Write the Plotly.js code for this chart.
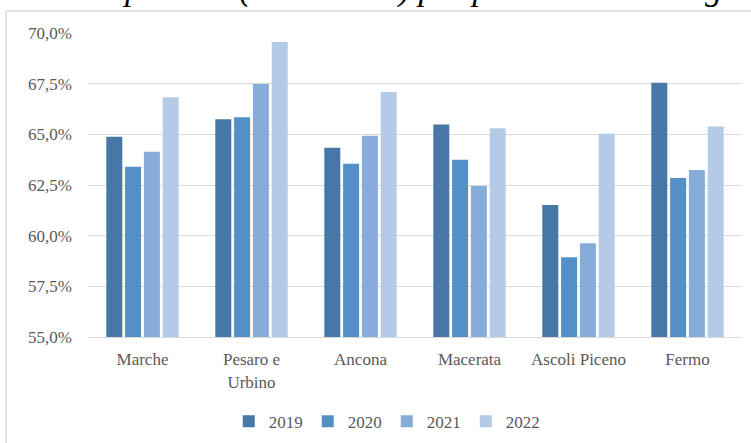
<!DOCTYPE html>
<html>
<head>
<meta charset="utf-8">
<script src="https://cdn.plot.ly/plotly-3.0.1.min.js"></script>
<style>html,body{margin:0;padding:0;background:#fff;}#chart{width:751px;height:443px;}</style>
</head>
<body>
<div id="chart"></div>
<script>
const categories = ["Marche", "Pesaro e<br>Urbino", "Ancona", "Macerata", "Ascoli Piceno", "Fermo"];
const years = ["2019", "2020", "2021", "2022"];
const v2019 = [64.88, 65.74, 64.34, 65.48, 61.51, 67.55];
const v2020 = [63.40, 65.84, 63.55, 63.75, 58.93, 62.85];
const v2021 = [64.14, 67.48, 64.93, 62.45, 59.62, 63.24];
const v2022 = [66.83, 69.56, 67.09, 65.30, 65.03, 65.39];
const yTicks = [55, 57.5, 60, 62.5, 65, 67.5, 70];
const yTickLabels = ["55,0%", "57,5%", "60,0%", "62,5%", "65,0%", "67,5%", "70,0%"];
const titleText = "Tasso di occupazione (15-64 anni) per provincia marchigiana e agli anni";

const series = [v2019, v2020, v2021, v2022];
const colors = ["#4677A6", "#5390C8", "#86ACDA", "#B4CBE7"];
const serif = "Liberation Serif, Times New Roman, serif";

const traces = series.map((vals, i) => ({
  type: "bar",
  name: years[i],
  x: categories,
  y: vals,
  marker: {color: colors[i], line: {width: 0}},
  hoverinfo: "y"
}));

const layout = {
  width: 751, height: 443,
  margin: {l: 88, r: 9, t: 33, b: 106},
  paper_bgcolor: "#ffffff", plot_bgcolor: "#ffffff",
  barmode: "group",
  bargap: 0.31,
  bargroupgap: 0.15,
  font: {family: serif, size: 16, color: "#595959"},
  xaxis: {
    type: "category",
    showgrid: false,
    showline: true, linecolor: "#d9d9d9", linewidth: 1,
    ticks: "", ticklabelstandoff: 7,
    tickfont: {family: serif, size: 17, color: "#595959"}
  },
  yaxis: {
    range: [55, 70],
    tickmode: "array",
    tickvals: yTicks,
    ticktext: yTickLabels,
    showgrid: true, gridcolor: "#d9d9d9", gridwidth: 1,
    zeroline: false, showline: false,
    ticks: "", ticklabelstandoff: 15,
    tickfont: {family: serif, size: 17, color: "#595959"}
  },
  showlegend: true,
  legend: {
    orientation: "h",
    xref: "container", yref: "container",
    x: 0.515, xanchor: "center",
    y: 0.048, yanchor: "middle",
    font: {family: serif, size: 17, color: "#595959"},
    itemwidth: 30,
    traceorder: "normal"
  },
  shapes: [
    {type: "line", xref: "paper", yref: "paper", x0: -0.1254, x1: -0.1254, y0: 1.0724, y1: -0.36, line: {color: "#d9d9d9", width: 1.5}},
    {type: "line", xref: "paper", yref: "paper", x0: -0.1254, x1: 1.03, y0: 1.0724, y1: 1.0724, line: {color: "#d9d9d9", width: 1.5}}
  ],
  annotations: [{
    text: "<i>" + titleText + "</i>",
    xref: "paper", yref: "paper",
    x: -0.228, xanchor: "left",
    y: 1.0757, yanchor: "bottom",
    showarrow: false,
    font: {family: serif, size: 34, color: "#000000"}
  }]
};

Plotly.newPlot("chart", traces, layout, {staticPlot: true, displayModeBar: false});
</script>
</body>
</html>
